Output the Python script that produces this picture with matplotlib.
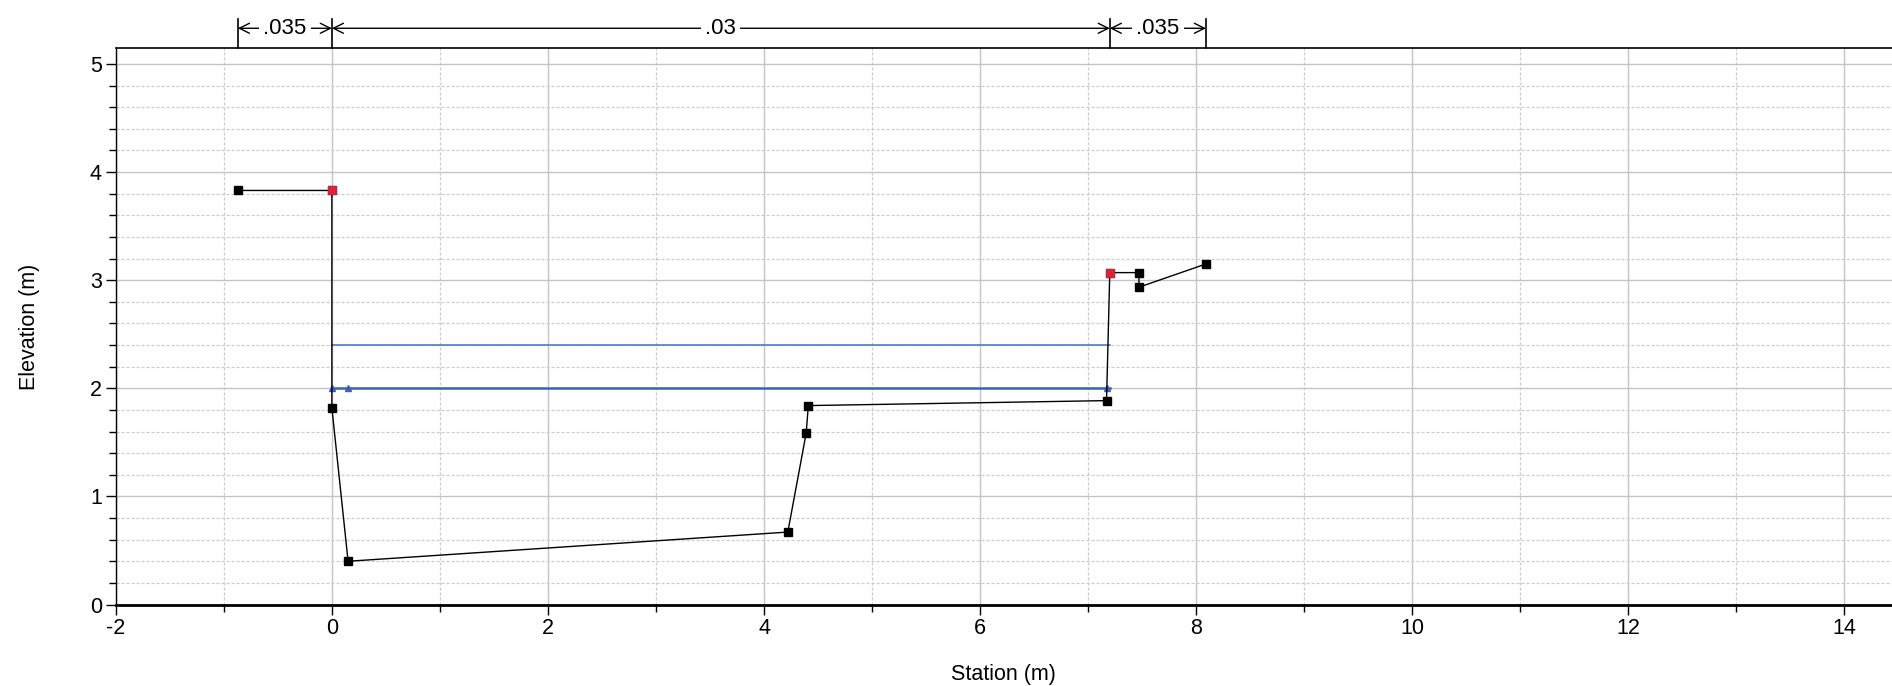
import matplotlib.pyplot as plt
from matplotlib.ticker import MultipleLocator

plt.rcParams["font.family"] = ["Liberation Sans", "DejaVu Sans"]
plt.rcParams["axes.unicode_minus"] = False

# ground profile (station, elevation)
station = [-0.87, 0.0, 0.0, 0.15, 4.22, 4.39, 4.41, 7.17, 7.20, 7.47, 7.47, 8.09]
elevation = [3.83, 3.83, 1.82, 0.40, 0.67, 1.585, 1.84, 1.886, 3.07, 3.07, 2.935, 3.15]

# bank stations
bank_sta = [0.0, 7.20]
bank_elev = [3.83, 3.07]

# water surfaces
ws_x = [0.0, 7.20]
ws_main = [2.0, 2.0]
ws_upper = [2.40, 2.40]
ws_tri_x = [0.0, 0.15, 7.17]
ws_tri_y = [2.0, 2.0, 2.0]

# manning n segments: (left, right, label)
n_left = [-0.87, 0.0, 7.20]
n_right = [0.0, 7.20, 8.09]
n_labels = [".035", ".03", ".035"]

fig = plt.figure(figsize=(18.92, 6.86), dpi=100)
ax = fig.add_axes([0.0612, 0.1188, 0.9388, 0.8108])

ax.set_xlim(-2, 14.44)
ax.set_ylim(0, 5.145)

ax.xaxis.set_major_locator(MultipleLocator(2))
ax.xaxis.set_minor_locator(MultipleLocator(1))
ax.yaxis.set_major_locator(MultipleLocator(1))
ax.yaxis.set_minor_locator(MultipleLocator(0.2))

ax.grid(which="major", color="#c4c4c4", linewidth=1.0, linestyle="-")
ax.grid(which="minor", color="#cccccc", linewidth=0.9, linestyle=(0, (2.5, 1.5)))
ax.set_axisbelow(True)

ax.tick_params(which="major", direction="out", length=7, width=1, labelsize=15.5, pad=3)
ax.tick_params(which="minor", direction="out", length=5, width=1)

ax.spines["right"].set_visible(False)
ax.spines["bottom"].set_linewidth(2)
ax.spines["left"].set_linewidth(1)
ax.spines["top"].set_linewidth(1.2)

# water surfaces
ax.plot(ws_x, ws_upper, color="#4a6cc0", linewidth=1.1, zorder=3)
ax.plot(ws_x, ws_main, color="#3e60b8", linewidth=1.8, zorder=3)
ax.plot(ws_tri_x, ws_tri_y, linestyle="none", marker="^", color="#3e60b8",
        markersize=4, zorder=4)

# ground
ax.plot(station, elevation, color="black", linewidth=1.0, marker="s",
        markersize=6, markerfacecolor="black", markeredgecolor="black", zorder=5)
ax.plot(bank_sta, bank_elev, linestyle="none", marker="s", markersize=6,
        markerfacecolor="#e8202a", markeredgecolor="#c0306a", markeredgewidth=0.6, zorder=6)

ax.set_xlabel("Station (m)", fontsize=15.5, labelpad=18)
ax.set_ylabel("Elevation (m)", fontsize=15.5, labelpad=36)

# manning n dimension lines above the plot
dim_y = 1.036
for left, right, lab in zip(n_left, n_right, n_labels):
    mid = (left + right) / 2
    for end in (left, right):
        ax.annotate("", xy=(end, dim_y), xytext=(mid, dim_y),
                    xycoords=("data", "axes fraction"),
                    textcoords=("data", "axes fraction"),
                    arrowprops=dict(arrowstyle="->", color="black", lw=1,
                                    shrinkA=0, shrinkB=0, mutation_scale=18),
                    annotation_clip=False)
    ax.text(mid, dim_y, lab, transform=ax.get_xaxis_transform(), ha="center",
            va="center", fontsize=16, clip_on=False,
            bbox=dict(facecolor="white", edgecolor="none", pad=3))
for xv in sorted(set(n_left + n_right)):
    ax.plot([xv, xv], [1.0, 1.052], color="black", linewidth=1.2,
            transform=ax.get_xaxis_transform(), clip_on=False)

fig.savefig("out.png", dpi=100)
